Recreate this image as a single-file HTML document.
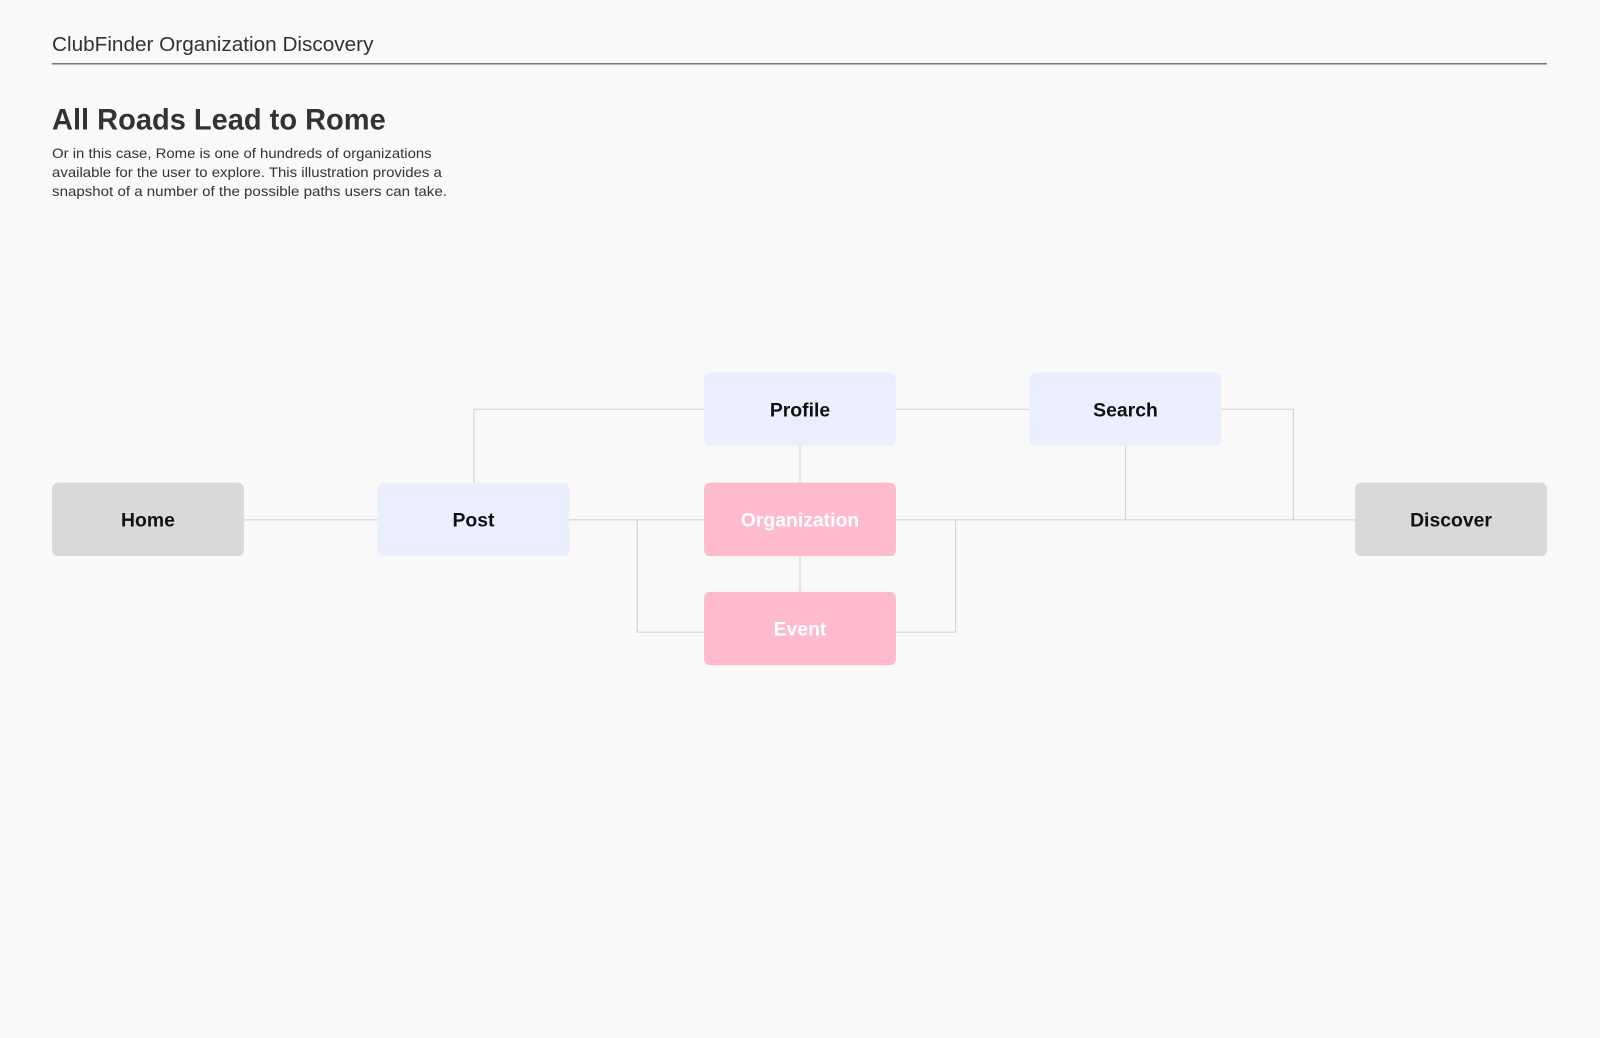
<!DOCTYPE html>
<html><head><meta charset="utf-8"><style>
html,body{margin:0;padding:0;background:#f9f9f9;width:1600px;height:1038px;overflow:hidden}
svg{display:block}
text{font-family:"Liberation Sans",sans-serif}
</style></head><body>
<svg width="1600" height="1038" viewBox="0 0 1568 1017.25" xmlns="http://www.w3.org/2000/svg">
<rect width="1568" height="1018" fill="#f9f9f9"/>
<text x="51" y="50" font-size="19.5" fill="#333" textLength="315" lengthAdjust="spacingAndGlyphs">ClubFinder Organization Discovery</text>
<line x1="51" y1="62.5" x2="1516" y2="62.5" stroke="#777" stroke-width="1.5"/>
<text x="51" y="127" font-size="29" font-weight="bold" fill="#333" textLength="327" lengthAdjust="spacingAndGlyphs">All Roads Lead to Rome</text>
<g font-size="14" fill="#333">
<text x="51" y="155" textLength="372" lengthAdjust="spacingAndGlyphs">Or in this case, Rome is one of hundreds of organizations</text>
<text x="51" y="173.5" textLength="382" lengthAdjust="spacingAndGlyphs">available for the user to explore. This illustration provides a</text>
<text x="51" y="192" textLength="387" lengthAdjust="spacingAndGlyphs">snapshot of a number of the possible paths users can take.</text>
</g>
<g stroke="#d6d6d6" stroke-width="1.2" fill="none">
<line x1="239" y1="509.5" x2="370" y2="509.5"/>
<polyline points="464.5,473 464.5,401 690,401"/>
<line x1="878" y1="401" x2="1009" y2="401"/>
<polyline points="1197,401 1267.5,401 1267.5,509.5"/>
<line x1="784" y1="437" x2="784" y2="473"/>
<line x1="784" y1="545" x2="784" y2="580"/>
<line x1="558" y1="509.5" x2="690" y2="509.5"/>
<polyline points="624.5,509.5 624.5,619.5 690,619.5"/>
<line x1="878" y1="509.5" x2="1328" y2="509.5"/>
<line x1="1103" y1="437" x2="1103" y2="509.5"/>
<polyline points="936.5,509.5 936.5,619.5 878,619.5"/>
</g>
<g font-size="19" font-weight="bold" text-anchor="middle">
<rect x="51" y="473" width="188" height="72" rx="6" fill="#d9d9d9"/>
<text x="145" y="516" fill="#111">Home</text>
<rect x="370" y="473" width="188" height="72" rx="6" fill="#ebeeff"/>
<text x="464" y="516" fill="#111">Post</text>
<rect x="690" y="365" width="188" height="72" rx="6" fill="#ebeeff"/>
<text x="784" y="408" fill="#111">Profile</text>
<rect x="1009" y="365" width="188" height="72" rx="6" fill="#ebeeff"/>
<text x="1103" y="408" fill="#111">Search</text>
<rect x="690" y="473" width="188" height="72" rx="6" fill="#ffbbcd"/>
<text x="784" y="516" fill="#fff">Organization</text>
<rect x="690" y="580" width="188" height="72" rx="6" fill="#ffbbcd"/>
<text x="784" y="623" fill="#fff">Event</text>
<rect x="1328" y="473" width="188" height="72" rx="6" fill="#d9d9d9"/>
<text x="1422" y="516" fill="#111">Discover</text>
</g>
</svg>
</body></html>
